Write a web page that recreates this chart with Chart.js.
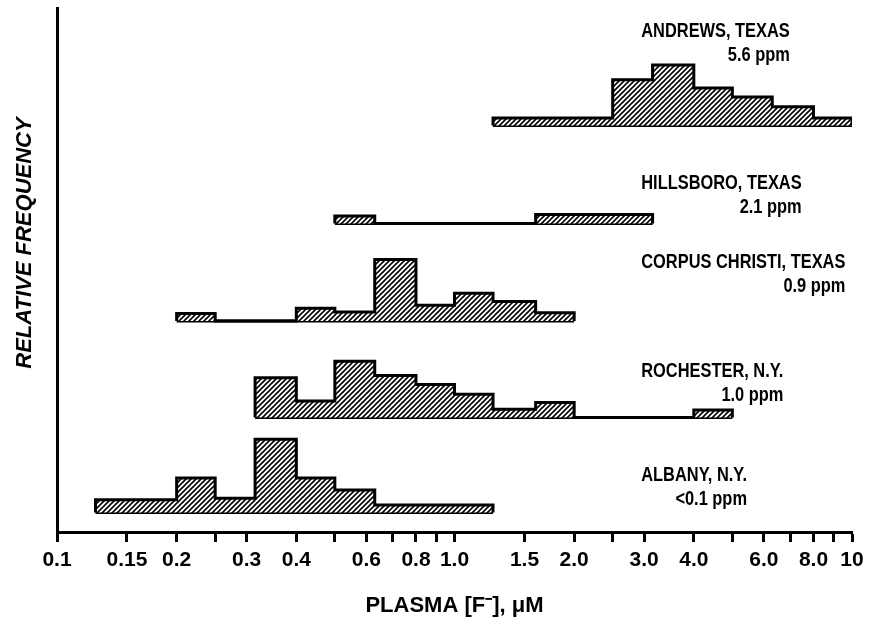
<!DOCTYPE html>
<html>
<head>
<meta charset="utf-8">
<script src="https://cdn.jsdelivr.net/npm/chart.js@4.4.1/dist/chart.umd.min.js"></script>
<style>
  html, body { margin: 0; padding: 0; background: #fff; }
  canvas { display: block; }
</style>
</head>
<body>
<canvas id="plasmaChart" width="871" height="626"></canvas>
<script>
// Bin edges (log spaced, 10 per decade), plasma fluoride in µM
const binEdges = [0.125, 0.16, 0.2, 0.25, 0.315, 0.4, 0.5, 0.63, 0.8, 1.0, 1.25, 1.6, 2.0, 2.5, 3.15, 4.0, 5.0, 6.3, 8.0, 10];

// Relative frequency per bin (null = outside the histogram, 0 = empty bin)
const andrews   = [null, null, null, null, null, null, null, null, null, null, 1, 1, 1, 6.1, 8.1, 5.0, 3.8, 2.5, 1];
const hillsboro = [null, null, null, null, null, null, 1, 0, 0, 0, 0, 1.2, 1.2, 1.2, null, null, null, null, null];
const corpus    = [null, null, 1, 0, 0, 1.7, 1.2, 8.2, 2.1, 3.7, 2.6, 1.1, null, null, null, null, null, null, null];
const rochester = [null, null, null, null, 5.3, 2.2, 7.5, 5.6, 4.4, 3.1, 1.1, 2.0, 0, 0, 0, 1, null, null, null];
const albany    = [1.7, 1.7, 4.6, 1.9, 9.8, 4.6, 3.0, 1, 1, 1, null, null, null, null, null, null, null, null, null];

const sites  = ['ANDREWS, TEXAS', 'HILLSBORO, TEXAS', 'CORPUS CHRISTI, TEXAS', 'ROCHESTER, N.Y.', 'ALBANY, N.Y.'];
const waterF = ['5.6 ppm', '2.1 ppm', '0.9 ppm', '1.0 ppm', '<0.1 ppm'];
const series = [andrews, hillsboro, corpus, rochester, albany];

// x axis ticks
const tickValues = [0.1, 0.15, 0.2, 0.25, 0.3, 0.4, 0.5, 0.6, 0.7, 0.8, 0.9, 1, 1.5, 2, 2.5, 3, 4, 5, 6, 7, 8, 9, 10];
const tickText   = ['0.1', '0.15', '0.2', '', '0.3', '0.4', '', '0.6', '', '0.8', '', '1.0', '1.5', '2.0', '', '3.0', '4.0', '', '6.0', '', '8.0', '', '10'];

// layout: vertical offset of each histogram and where its label sits
const baseOffset = [54.3, 41.2, 28.2, 15.3, 2.6];
const labelY     = [66.9, 46.6, 36.0, 21.5, 7.5];
const labelX     = 2.95;
const squeeze    = 0.82;
const yTitleAt   = 38.6;
const FONT = '"Liberation Sans", Arial, sans-serif';

function hatch() {
    const c = document.createElement('canvas');
    c.width = c.height = 5;
    const g = c.getContext('2d');
    g.fillStyle = '#fff';
    g.fillRect(0, 0, 5, 5);
    g.strokeStyle = '#000';
    g.lineWidth = 1.6;
    g.beginPath();
    g.moveTo(0, 5); g.lineTo(5, 0);
    g.moveTo(-1, 1); g.lineTo(1, -1);
    g.moveTo(4, 6); g.lineTo(6, 4);
    g.stroke();
    return g.createPattern(c, 'repeat');
}
const pattern = hatch();

const datasets = [];
series.forEach((h, k) => {
    const base = baseOffset[k];
    const first = h.findIndex(v => v !== null);
    let last = h.length - 1;
    while (h[last] === null) last--;
    const pts = [{ x: binEdges[first], y: base }];
    for (let i = first; i <= last; i++) pts.push({ x: binEdges[i], y: base + h[i] });
    pts.push({ x: binEdges[last + 1], y: base });
    datasets.push({
        label: sites[k],
        data: pts,
        stepped: true,
        fill: { value: base },
        backgroundColor: pattern,
        borderColor: '#000',
        borderWidth: 3,
        borderJoinStyle: 'miter',
        pointRadius: 0
    });
    // bottom edge of the histogram
    datasets.push({
        label: sites[k] + ' base',
        data: [{ x: binEdges[first], y: base }, { x: binEdges[last + 1], y: base }],
        borderColor: '#000',
        borderWidth: 3,
        pointRadius: 0,
        fill: false
    });
});

// site names, water fluoride and the rotated y title
const siteLabels = {
    id: 'siteLabels',
    afterDatasetsDraw(chart) {
        const { ctx, scales: { x, y } } = chart;
        ctx.save();
        ctx.fillStyle = '#000';
        ctx.font = 'bold 20px ' + FONT;
        ctx.textBaseline = 'middle';
        sites.forEach((name, k) => {
            const px = x.getPixelForValue(labelX);
            const py = y.getPixelForValue(labelY[k]);
            const w = ctx.measureText(name).width;
            ctx.save();
            ctx.translate(px, py);
            ctx.scale(squeeze, 1);
            ctx.textAlign = 'left';
            ctx.fillText(name, 0, 0);
            ctx.textAlign = 'right';
            ctx.fillText(waterF[k], w, 24);
            ctx.restore();
        });

        ctx.translate(25, y.getPixelForValue(yTitleAt));
        ctx.rotate(-Math.PI / 2);
        ctx.font = 'italic bold 22px ' + FONT;
        ctx.textAlign = 'center';
        ctx.fillText('RELATIVE FREQUENCY', 0, 0);
        ctx.restore();
    }
};

new Chart(document.getElementById('plasmaChart').getContext('2d'), {
    type: 'line',
    data: { datasets },
    options: {
        responsive: false,
        animation: false,
        devicePixelRatio: 1,
        layout: { padding: { top: 8, right: 19, bottom: 0, left: 0 } },
        plugins: {
            legend: { display: false },
            tooltip: { enabled: false }
        },
        scales: {
            x: {
                type: 'logarithmic',
                min: 0.1,
                max: 10,
                afterBuildTicks: s => { s.ticks = tickValues.map(v => ({ value: v })); },
                afterFit: s => { s.height = 94; },
                ticks: {
                    autoSkip: false,
                    maxRotation: 0,
                    padding: 6,
                    color: '#000',
                    font: { family: FONT, size: 21, weight: 'bold' },
                    callback: (v, i) => tickText[i]
                },
                grid: {
                    drawOnChartArea: false,
                    drawTicks: true,
                    tickLength: 10,
                    tickWidth: 3,
                    tickColor: '#000',
                    color: '#000'
                },
                border: { display: true, color: '#000', width: 3 },
                title: {
                    display: true,
                    text: 'PLASMA [F\u207B], \u03BCM',
                    color: '#000',
                    font: { family: FONT, size: 22, weight: 'bold' },
                    padding: { top: 0, bottom: 7 }
                }
            },
            y: {
                type: 'linear',
                min: 0,
                max: 70,
                afterFit: s => { s.width = 57; },
                ticks: { display: false },
                grid: { display: false },
                border: { display: true, color: '#000', width: 3 }
            }
        }
    },
    plugins: [siteLabels]
});
</script>
</body>
</html>
